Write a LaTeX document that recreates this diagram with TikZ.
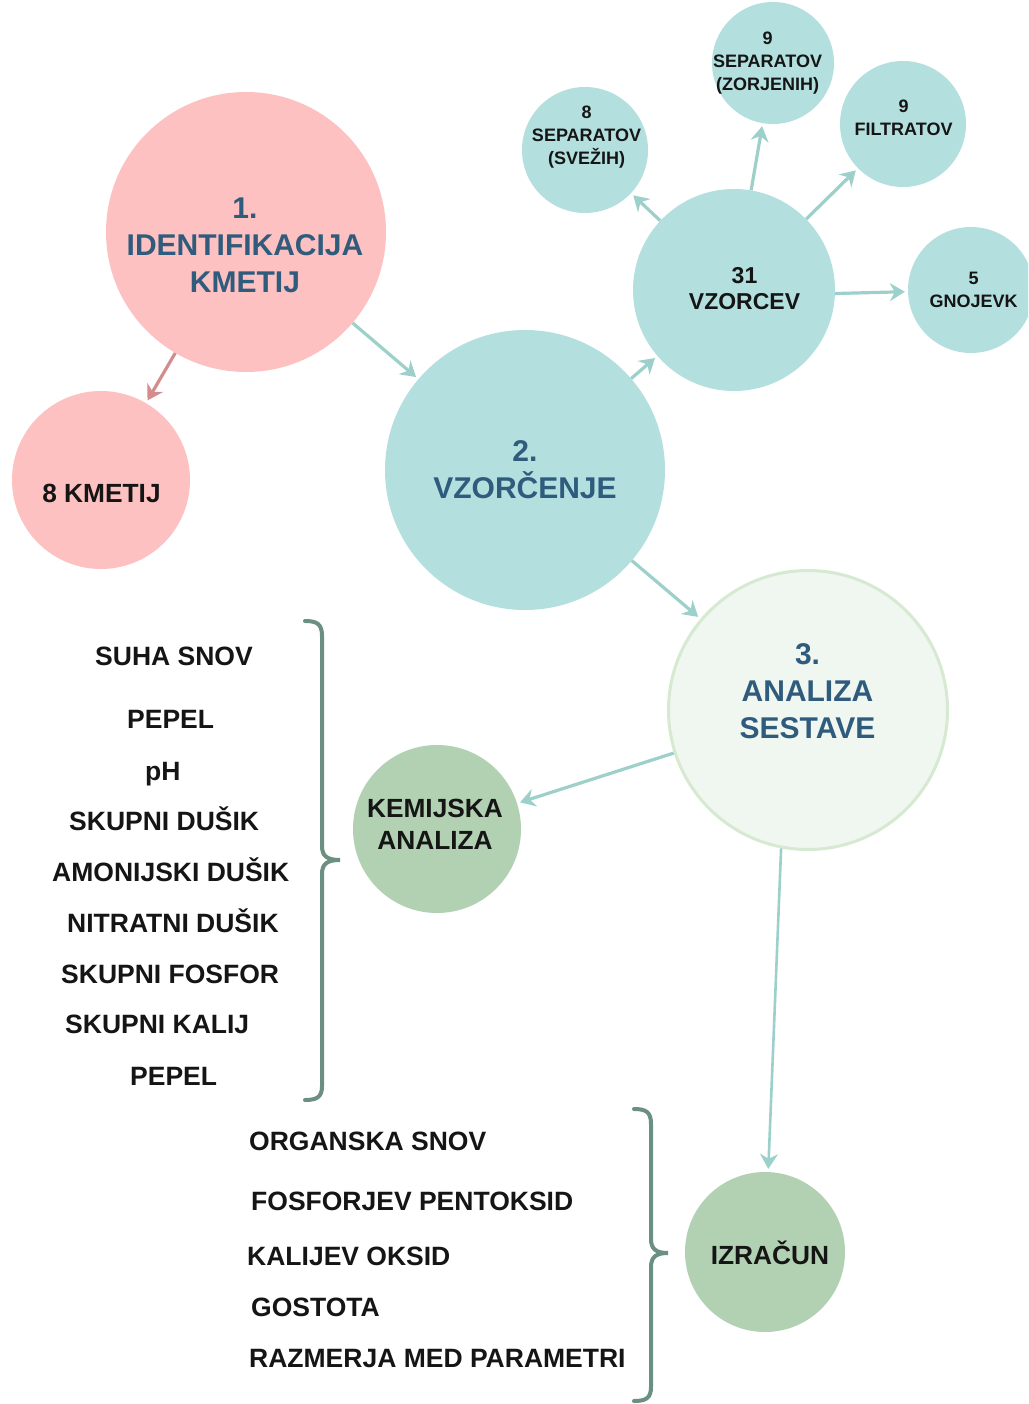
\documentclass[tikz,border=0pt]{standalone}
\usepackage{fontspec}
\setmainfont{Liberation Sans}
\usetikzlibrary{arrows.meta}
\definecolor{pinkc}{HTML}{FDC1C1}
\definecolor{tealc}{HTML}{B3E0DF}
\definecolor{bluet}{HTML}{2F5B7C}
\definecolor{lgfill}{HTML}{F0F7F0}
\definecolor{lgline}{HTML}{D6E9D1}
\definecolor{sage}{HTML}{B2D1B3}
\definecolor{bracec}{HTML}{6B8F80}
\definecolor{arrt}{HTML}{9DD0CA}
\definecolor{arrr}{HTML}{D58C8C}
\definecolor{inkc}{HTML}{151515}
\begin{document}
\begin{tikzpicture}[x=1pt,y=-1pt,
  bub/.style={circle, inner sep=0pt, minimum size=#1},
  conn/.style={line width=3.2pt, arrt, -{Stealth[length=15pt,width=18pt,inset=5pt]}, shorten <=0pt, shorten >=3pt},
  connr/.style={conn, arrr},
  bigt/.style={font=\bfseries\fontsize{30}{37}\selectfont, align=center, inner sep=0pt, text=bluet},
  midt/.style={font=\bfseries\fontsize{26.3}{32}\selectfont, align=center, inner sep=0pt, text=inkc},
  vzt/.style={font=\bfseries\fontsize{23}{26}\selectfont, align=center, inner sep=0pt, text=inkc},
  smt/.style={font=\bfseries\fontsize{18}{23}\selectfont, align=center, inner sep=0pt, text=inkc},
  item/.style={font=\bfseries\fontsize{26.5}{32}\selectfont, inner sep=0pt, anchor=base west, text=inkc},
  bracel/.style={line width=4pt, bracec, line cap=round}
]
\clip (0,0) rectangle (1028,1404);
\fill[white] (0,0) rectangle (1028,1404);

% circles
\node[bub=280pt, fill=pinkc] (id) at (246,232) {};
\node[bub=178pt, fill=pinkc] (km) at (101,480) {};
\node[bub=280pt, fill=tealc] (vz) at (525,470) {};
\node[bub=202pt, fill=tealc] (v31) at (734,290) {};
\node[bub=126pt, fill=tealc] (sps) at (585,150) {};
\node[bub=122pt, fill=tealc] (spz) at (773,63) {};
\node[bub=126pt, fill=tealc] (fil) at (903,124) {};
\node[bub=126pt, fill=tealc] (gn) at (971,290) {};
\node[bub=279pt, fill=lgfill, draw=lgline, line width=3pt] (an) at (808,710) {};
\node[bub=168pt, fill=sage] (kem) at (437,829) {};
\node[bub=160pt, fill=sage] (iz) at (765,1252) {};

% circle texts
\node[bigt] (idt) at (245,245.5) {1.\\IDENTIFIKACIJA\\KMETIJ};
\node[midt] (kmt) at (101.5,493) {8 KMETIJ};
\node[bigt] (vzt) at (525,470) {2.\\VZORČENJE};
\node[vzt] (v31t) at (744.5,289) {31\\VZORCEV};
\node[smt] (spst) at (586.5,137) {8\\SEPARATOV\\(SVEŽIH)};
\node[smt] (spzt) at (767.5,63) {9\\SEPARATOV\\(ZORJENIH)};
\node[smt] (filt) at (903.5,117.5) {9\\FILTRATOV};
\node[smt] (gnt) at (973.5,289.5) {5\\GNOJEVK};
\node[bigt] (ant) at (807.5,691.5) {3.\\ANALIZA\\SESTAVE};
\node[midt] (kemt) at (435,824) {KEMIJSKA\\ANALIZA};
\node[midt] (izt) at (770,1253) {IZRAČUN};

% connectors
\draw[connr] (id) -- (km);
\draw[conn] (id) -- (vz);
\draw[conn] (vz) -- (v31);
\draw[conn] (v31) -- (sps);
\draw[conn] (v31) -- (spz);
\draw[conn] (v31) -- (fil);
\draw[conn] (v31.-2) -- (gn);
\draw[conn] (vz) -- (an);
\draw[conn] (an) -- (kem);
\draw[conn, line width=2.6pt] (an.-101) -- (iz);

% left list
\node[item] (l1) at (95,665) {SUHA SNOV};
\node[item] (l2) at (127,728) {PEPEL};
\node[item] (l3) at (145,780) {pH};
\node[item] (l4) at (69,830) {SKUPNI DUŠIK};
\node[item] (l5) at (52,881) {AMONIJSKI DUŠIK};
\node[item] (l6) at (67,932) {NITRATNI DUŠIK};
\node[item] (l7) at (61,983) {SKUPNI FOSFOR};
\node[item] (l8) at (65,1033) {SKUPNI KALIJ};
\node[item] (l9) at (130,1085) {PEPEL};

% bottom list
\node[item] (b1) at (249,1150) {ORGANSKA SNOV};
\node[item] (b2) at (251,1210) {FOSFORJEV PENTOKSID};
\node[item] (b3) at (247,1265) {KALIJEV OKSID};
\node[item] (b4) at (251,1316) {GOSTOTA};
\node[item] (b5) at (249,1367) {RAZMERJA MED PARAMETRI};

% braces
\draw[bracel] (305,621) .. controls (317,621) and (322,624) .. (322,636)
  -- (322,846) .. controls (322,856) and (327,860) .. (340,860)
  .. controls (327,860) and (322,864) .. (322,874)
  -- (322,1086) .. controls (322,1097) and (317,1100) .. (305,1100);
\draw[bracel] (634,1109) .. controls (646,1109) and (651,1112) .. (651,1124)
  -- (651,1239) .. controls (651,1249) and (656,1253) .. (668,1253)
  .. controls (656,1253) and (651,1257) .. (651,1267)
  -- (651,1387) .. controls (651,1398) and (646,1401) .. (634,1401);
\end{tikzpicture}
\end{document}
